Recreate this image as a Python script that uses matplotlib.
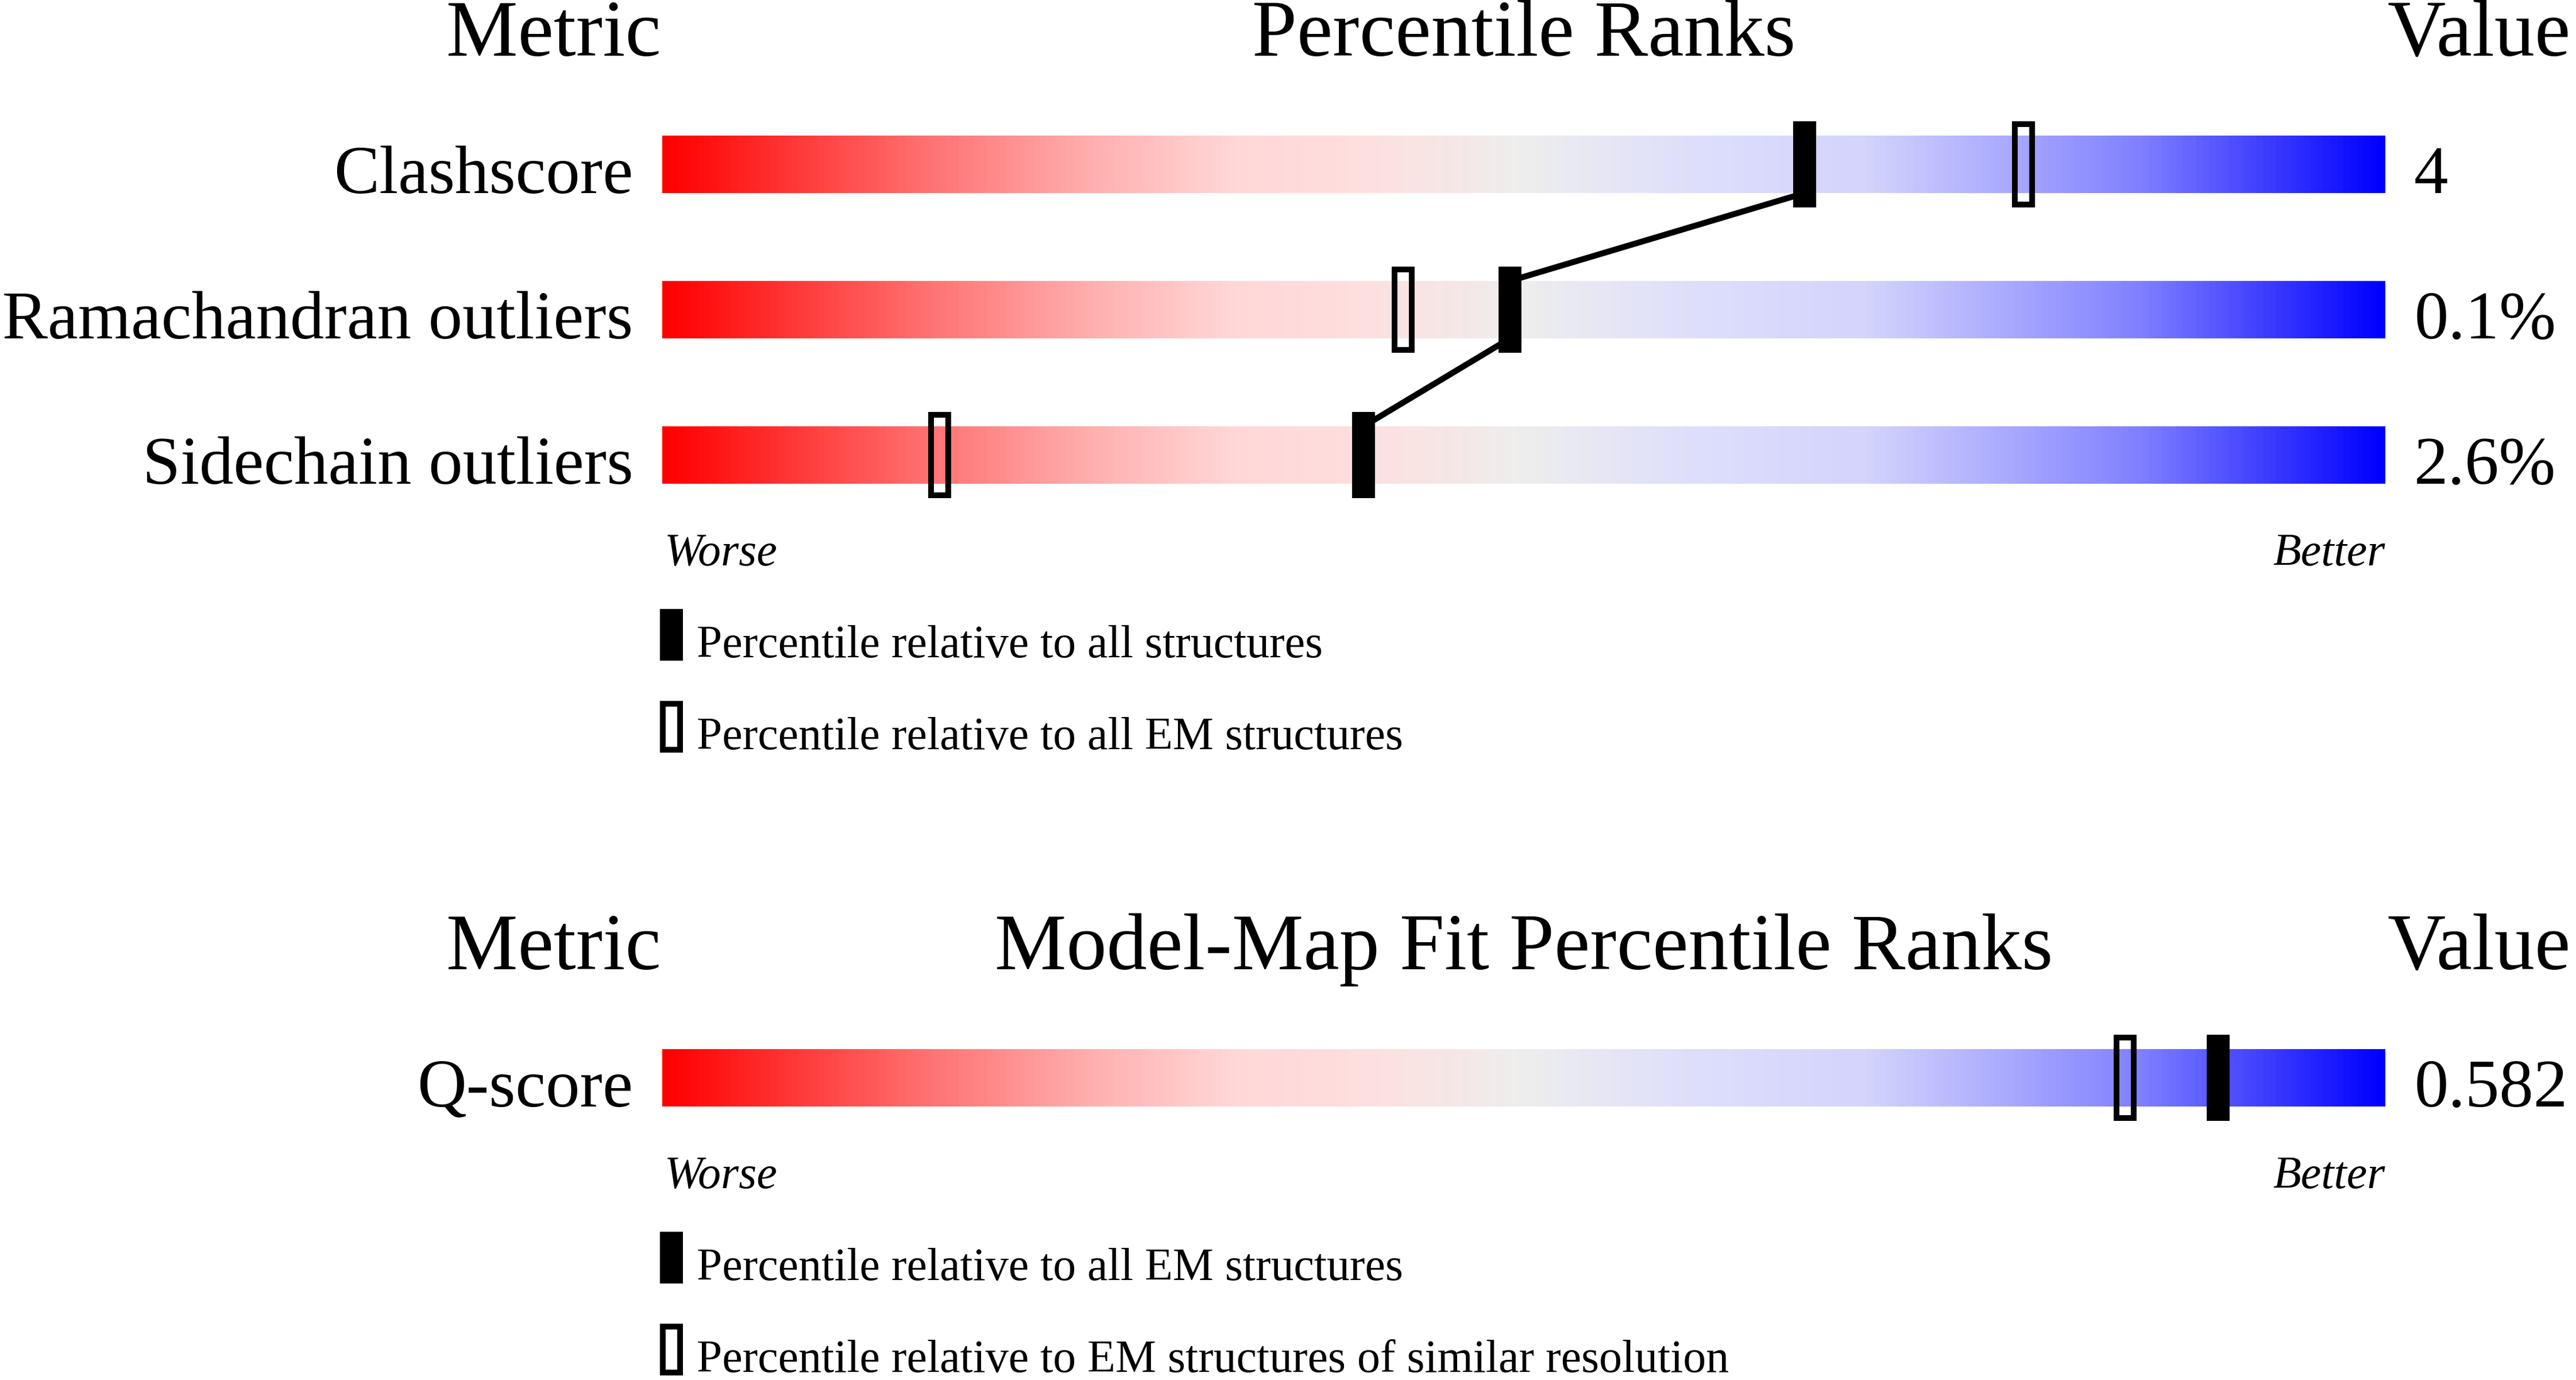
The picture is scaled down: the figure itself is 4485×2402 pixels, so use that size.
import numpy as np
import matplotlib
matplotlib.use('Agg')
from matplotlib import pyplot as plt
from matplotlib.colors import LinearSegmentedColormap
from matplotlib.patches import Rectangle

# data
metrics_top = ['Clashscore', 'Ramachandran outliers', 'Sidechain outliers']
values_top = ['4', '0.1%', '2.6%']
pct_all_top = [66.3, 49.2, 40.7]   # percentile relative to all structures (filled)
pct_em_top = [79.0, 43.0, 16.1]    # percentile relative to all EM structures (open)
legend_top = ['Percentile relative to all structures',
              'Percentile relative to all EM structures']

metrics_bot = ['Q-score']
values_bot = ['0.582']
pct_all_bot = [90.3]               # relative to all EM structures (filled)
pct_em_bot = [84.9]                # relative to EM structures of similar resolution (open)
legend_bot = ['Percentile relative to all EM structures',
              'Percentile relative to EM structures of similar resolution']

# slider colour stops
stops = [(0.00, (255, 0, 0)), (0.15, (255, 112, 112)), (0.25, (255, 176, 176)),
         (0.33, (255, 215, 215)), (0.40, (255, 222, 222)), (0.50, (238, 238, 238)),
         (0.60, (222, 222, 252)), (0.70, (212, 212, 252)), (0.77, (176, 176, 255)),
         (0.86, (128, 128, 255)), (1.00, (0, 0, 255))]
cmap = LinearSegmentedColormap.from_list(
    'slider', [(p, tuple(c / 255 for c in rgb)) for p, rgb in stops])

W, H = 4485, 2402
fig = plt.figure(figsize=(W / 100, H / 100), dpi=100)
ax = fig.add_axes([0, 0, 1, 1])

# x axis in percentile units: 0 -> px 1153, 100 -> px 4153
x0_px, x1_px = 1153, 4153
k = (x1_px - x0_px) / 100.0
ax.set_xlim(-x0_px / k, (W - x0_px) / k)
ax.set_ylim(H, 0)  # y in pixels from the top
ax.axis('off')

serif = ['Liberation Serif', 'DejaVu Serif']
big, mid, small = 101, 85.5, 57.5
bar_h = 100
mk_h = 150
mk_w = 40 / k
bw = 10          # open marker border, px
open_lw = bw * 0.72  # pt

grad = np.linspace(0, 1, 600).reshape(1, -1)


def draw_section(top, header, metrics, values, pct_all, pct_em, legend):
    ax.text(-2 / k, top - 139, 'Metric', ha='right', va='baseline',
            fontsize=big, family=serif)
    ax.text(50, top - 139, header, ha='center', va='baseline',
            fontsize=big, family=serif)
    ax.text(100 + 3 / k, top - 139, 'Value', ha='left', va='baseline',
            fontsize=big, family=serif)

    prev = None
    for i, (m, v, pa, pe) in enumerate(zip(metrics, values, pct_all, pct_em)):
        y0 = top + i * 253
        ax.imshow(grad, cmap=cmap, aspect='auto', interpolation='bilinear',
                  extent=(0, 100, y0 + bar_h, y0), zorder=1)
        ax.text(-51 / k, y0 + bar_h, m, ha='right', va='baseline',
                fontsize=mid, family=serif)
        ax.text(100 + 50 / k, y0 + bar_h, v, ha='left', va='baseline',
                fontsize=mid, family=serif)
        cy = y0 + bar_h / 2
        # open marker (see-through)
        ax.add_patch(Rectangle((pe - (mk_w - bw / k) / 2, cy - (mk_h - bw) / 2),
                               mk_w - bw / k, mk_h - bw, facecolor='none',
                               edgecolor='black', lw=open_lw, zorder=3))
        # filled marker
        ax.add_patch(Rectangle((pa - mk_w / 2, cy - mk_h / 2), mk_w, mk_h,
                               facecolor='black', edgecolor='none', zorder=4))
        if prev is not None:
            ax.plot([prev[0], pa], [prev[1], y0], color='black', lw=7.5,
                    solid_capstyle='butt', zorder=2)
        prev = (pa, y0 + bar_h)

    bottom = top + (len(metrics) - 1) * 253 + bar_h
    ax.text(0 + 4 / k, bottom + 142, 'Worse', ha='left', va='baseline',
            fontsize=small, style='italic', family=serif)
    ax.text(100, bottom + 142, 'Better', ha='right', va='baseline',
            fontsize=small, style='italic', family=serif)

    for j, lab in enumerate(legend):
        ly = bottom + 218 + j * 160
        if j == 0:
            ax.add_patch(Rectangle((-4 / k, ly), mk_w, 90, facecolor='black',
                                   edgecolor='none', zorder=4))
        else:
            ax.add_patch(Rectangle((-4 / k + (bw / 2) / k, ly + bw / 2),
                                   mk_w - bw / k, 90 - bw,
                                   facecolor='none', edgecolor='black',
                                   lw=open_lw, zorder=4))
        ax.text(60 / k, ly + 84, lab, ha='left', va='baseline',
                fontsize=small, family=serif)


draw_section(236, 'Percentile Ranks', metrics_top, values_top,
             pct_all_top, pct_em_top, legend_top)
draw_section(1826, 'Model-Map Fit Percentile Ranks', metrics_bot, values_bot,
             pct_all_bot, pct_em_bot, legend_bot)

fig.savefig('out.png', dpi=100, facecolor='white')
